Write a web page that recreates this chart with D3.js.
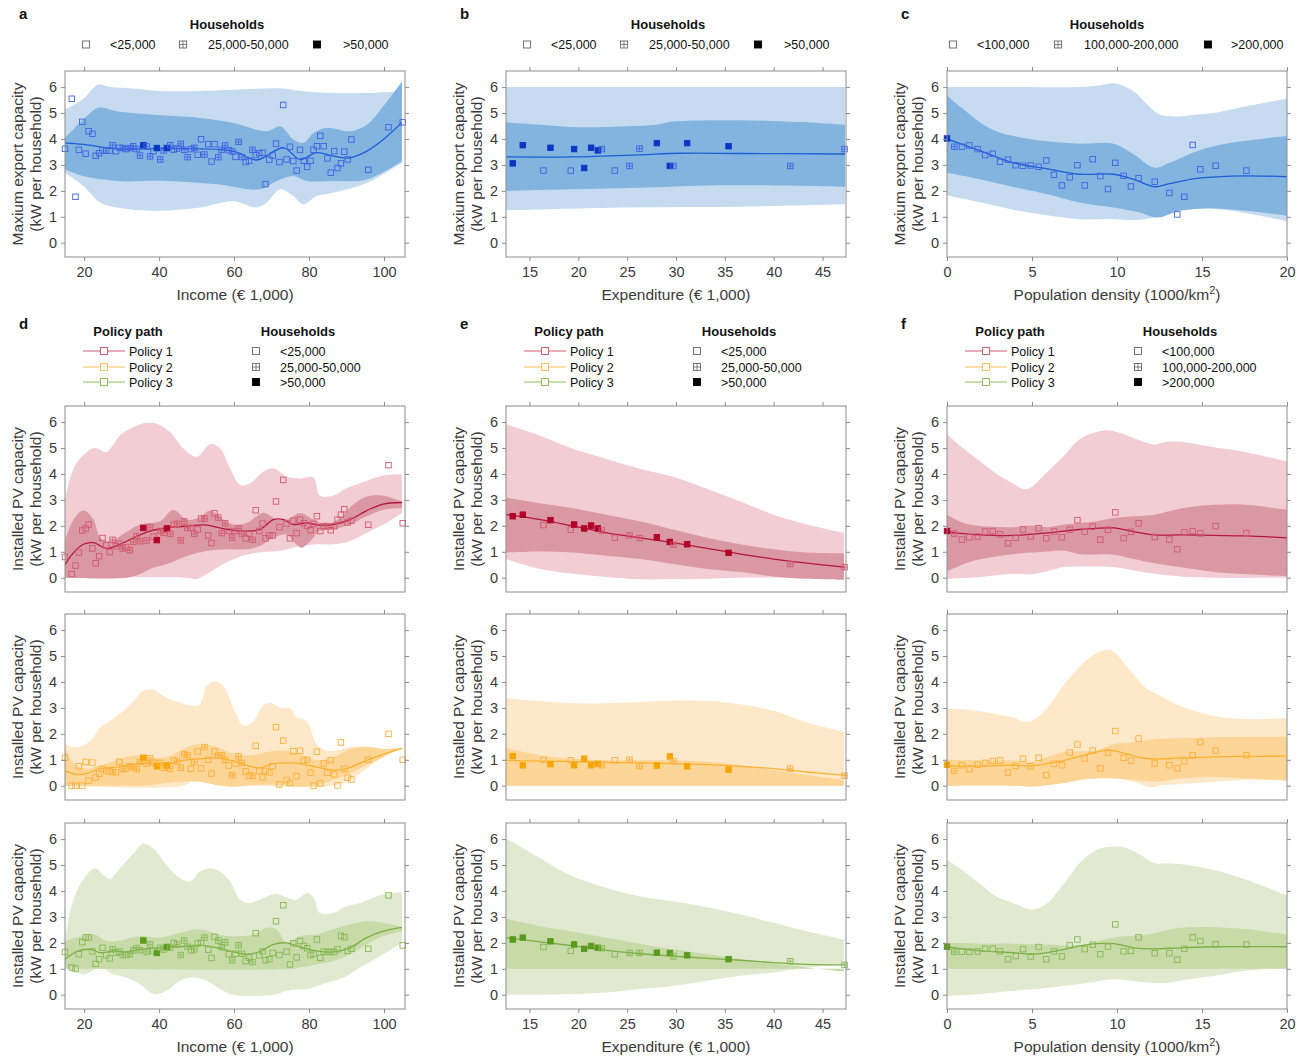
<!DOCTYPE html>
<html>
<head>
<meta charset="utf-8">
<script src="https://cdn.jsdelivr.net/npm/d3@7"></script>
<style>
body { margin: 0; background: #fff; }
svg { font-family: "Liberation Sans", Arial, Helvetica, sans-serif; }
</style>
</head>
<body>
<svg id="chart" width="1306" height="1061"></svg>
<script>
// ---- household groups / labels
var incomeGroups = ["<25,000", "25,000-50,000", ">50,000"];
var densityGroups = ["<100,000", "100,000-200,000", ">200,000"];
var policyNames = ["Policy 1", "Policy 2", "Policy 3"];
var incomeTicks = [20, 40, 60, 80, 100];
var expTicks = [15, 20, 25, 30, 35, 40, 45];
var densTicks = [0, 5, 10, 15, 20];
var yTicks = [0, 1, 2, 3, 4, 5, 6];

// ---- municipality points (x shared across panels of a column), type 0 = open, 1 = plus, 2 = filled
var incomeX = [14.9,16.7,17.7,18.6,19.5,20.4,21.2,22.2,23.1,24.0,
  24.9,25.9,26.8,27.6,28.5,29.4,30.3,31.2,32.2,33.1,
  34.0,34.9,35.8,36.7,37.6,38.5,39.4,40.3,41.2,42.1,
  43.0,43.9,44.8,45.8,46.7,47.6,48.5,49.4,50.3,51.2,
  52.1,53.1,54.0,54.8,55.8,56.7,57.6,58.6,59.5,60.4,
  61.2,62.1,63.1,64.0,64.9,65.8,66.7,67.6,68.4,69.4,
  70.3,71.2,72.1,73.1,74.0,74.9,75.8,76.7,77.6,78.6,
  79.5,80.4,81.2,82.1,83.0,83.9,84.9,85.8,86.7,87.6,
  88.5,89.4,90.3,91.3,95.8,101.2,105.0];
var incomeType = [0,0,0,0,0,0,0,0,0,0,
  0,0,0,1,0,0,1,0,1,1,
  1,1,2,1,1,0,2,1,1,2,
  1,0,1,1,1,1,0,1,0,0,
  1,0,0,0,1,1,1,0,1,0,
  1,1,0,0,1,0,0,0,0,0,
  0,0,0,0,0,0,0,0,0,0,
  0,0,0,0,0,0,0,0,0,0,
  0,0,0,0,0,0,0];
var aY = [3.62,5.55,1.77,3.58,4.66,3.43,4.30,4.20,3.35,3.45,
  3.56,3.55,3.55,3.76,3.53,3.66,3.65,3.61,3.65,3.72,
  3.61,3.36,3.76,3.71,3.33,3.53,3.65,3.21,3.56,3.65,
  3.76,3.59,3.63,3.81,3.58,3.30,3.61,3.66,3.39,3.99,
  3.40,3.80,3.13,3.80,3.30,3.58,3.75,3.57,3.52,3.31,
  3.89,3.30,3.11,3.16,3.58,3.38,3.45,3.47,2.26,3.20,
  3.36,3.82,3.11,5.31,3.21,3.70,3.15,2.78,3.58,3.16,
  2.93,3.16,3.58,3.72,4.12,3.72,3.25,2.70,3.53,2.88,
  3.06,3.51,3.21,3.98,2.81,4.45,4.64];
var d1Y = [0.80,0.14,0.47,0.97,1.82,1.90,2.05,1.13,0.56,0.83,
  1.53,1.25,0.99,1.46,1.22,1.31,1.13,1.17,1.06,1.38,
  1.59,1.41,1.92,1.44,1.95,1.58,1.45,1.80,1.73,1.90,
  1.69,2.05,2.08,1.44,2.17,1.92,1.92,1.69,1.86,2.28,
  2.28,1.63,1.34,2.48,2.32,1.72,2.10,1.80,1.55,1.80,
  1.90,1.69,1.52,1.69,1.46,2.60,1.80,2.09,1.52,1.63,
  1.63,2.94,1.95,3.77,2.09,1.52,2.20,1.72,2.24,2.10,
  2.00,1.83,2.08,2.37,1.80,1.99,1.99,1.83,1.99,2.24,
  2.43,2.64,2.13,2.20,2.04,4.34,2.10];
var d2Y = [1.08,0.00,0.00,0.75,0.00,0.92,0.20,0.89,0.32,0.46,
  0.64,0.57,0.55,0.53,0.52,0.92,0.64,0.66,0.75,0.71,
  0.64,0.92,1.08,0.85,1.06,0.89,0.75,0.88,0.69,0.78,
  0.65,0.97,0.93,0.69,1.21,1.18,0.66,0.92,1.32,0.67,
  1.49,1.00,0.47,1.32,1.17,1.17,1.00,0.78,0.41,0.85,
  1.13,0.88,0.55,0.39,0.39,1.54,0.57,0.32,0.57,0.51,
  0.76,2.26,0.05,1.74,0.22,0.10,1.33,0.37,1.35,0.97,
  1.00,0.50,0.00,1.31,0.09,0.86,0.50,0.99,0.44,0.01,
  1.67,0.65,0.31,0.24,1.00,2.00,1.00];
var d3Y = [1.65,1.05,1.01,1.56,2.03,2.21,2.21,1.67,1.19,1.37,
  1.81,1.52,1.40,1.75,1.62,1.66,1.53,1.53,1.57,1.71,
  1.80,1.72,2.09,1.65,1.94,1.69,1.61,1.81,1.74,1.84,
  1.81,2.00,1.94,1.53,2.09,1.85,1.71,1.75,1.97,2.00,
  2.20,1.74,1.42,2.23,2.09,1.83,2.02,1.56,1.33,1.58,
  1.91,1.58,1.30,1.43,1.26,2.37,1.52,1.67,1.33,1.37,
  1.61,2.83,1.53,3.45,1.66,1.17,1.98,1.44,2.07,1.88,
  1.79,1.53,1.58,2.13,1.42,1.66,1.65,1.65,1.65,1.75,
  2.27,2.22,1.69,1.77,1.77,3.83,1.90];

var expX = [13.29,14.32,16.43,17.15,19.23,19.57,20.60,21.31,22.00,22.41,23.74,25.24,26.26,28.04,29.37,29.74,31.14,35.38,41.69,47.25];
var expType = [2,2,0,2,0,2,2,2,2,1,0,1,1,2,2,1,2,2,1,1];
var bY = [3.06,3.76,2.78,3.66,2.78,3.61,2.88,3.66,3.56,3.61,2.78,2.96,3.63,3.84,2.96,2.96,3.84,3.72,2.96,3.61];
var e1Y = [2.37,2.43,2.03,2.22,1.85,2.05,1.90,2.01,1.90,1.82,1.54,1.63,1.53,1.56,1.38,1.27,1.29,0.96,0.53,0.41];
var e2Y = [1.14,0.79,1.00,0.83,0.98,0.79,1.04,0.79,0.84,0.79,0.98,1.00,0.76,0.78,1.13,0.95,0.75,0.62,0.66,0.39];
var e3Y = [2.13,2.20,1.84,2.06,1.69,1.94,1.77,1.88,1.81,1.79,1.56,1.61,1.61,1.62,1.61,1.48,1.52,1.37,1.29,1.15];

var densX = [0,0.43,0.88,1.31,1.80,2.24,2.69,3.12,3.59,4.04,4.47,4.92,5.39,5.84,6.29,6.76,7.22,7.67,8.10,8.57,9.02,9.47,9.90,10.39,10.82,11.27,12.22,13.08,13.55,13.96,14.45,14.90,15.80,17.61];
var densType = [2,1,0,0,0,0,0,0,0,0,0,0,0,0,0,0,0,0,0,0,0,0,0,0,0,0,0,0,0,0,0,0,0,0];
var cY = [4.02,3.70,3.70,3.75,3.61,3.38,3.43,3.12,3.20,2.99,2.97,2.98,2.93,3.17,2.62,2.21,2.52,2.99,2.21,3.22,2.57,2.07,3.08,2.58,2.17,2.49,2.35,1.92,1.09,1.77,3.77,2.83,2.97,2.78];
var f1Y = [1.80,1.70,1.47,1.56,1.59,1.78,1.80,1.67,1.33,1.54,1.86,1.59,1.91,1.52,1.78,1.56,1.85,2.22,1.78,1.97,1.47,1.85,2.52,1.53,1.77,2.10,1.57,1.47,1.10,1.75,1.80,1.71,1.99,1.72];
var f2Y = [0.81,0.57,0.79,0.64,0.81,0.88,0.95,0.97,0.51,0.76,1.04,0.75,1.08,0.41,0.85,0.79,1.28,1.59,1.05,1.35,0.67,1.28,2.11,1.08,0.97,1.82,0.86,0.79,0.67,0.94,1.17,1.68,1.35,1.17];
var f3Y = [1.85,1.65,1.66,1.66,1.67,1.77,1.77,1.67,1.37,1.49,1.76,1.48,1.84,1.37,1.67,1.48,1.90,2.13,1.76,1.93,1.56,1.85,2.71,1.67,1.69,2.21,1.60,1.60,1.35,1.77,2.21,2.07,1.94,1.93];

// ---- fitted curves and uncertainty bands, [x, y] pairs
var aOuterHi = [[14.9,5.13],[19.8,5.55],[23.8,6.1],[27,6.0],[33,5.95],[40,5.85],[50,5.85],[60,5.9],[68,5.95],[73,5.95],[78,5.85],[86.5,5.77],[95,5.77],[100,5.8],[104.8,5.85]];
var aOuterLo = [[14.9,2.7],[19.8,2.19],[24.3,1.55],[28.7,1.36],[39.4,1.23],[50.9,1.36],[59.8,1.6],[66,1.36],[68.7,1.55],[72.3,2.06],[75.8,1.8],[78.5,1.48],[82,1.8],[86.5,1.93],[95.4,2.3],[104.8,3.08]];
var aInnerHi = [[14.9,4.04],[19.8,4.75],[23.8,5.2],[28.7,5.07],[37.6,4.94],[50.9,4.81],[59.8,4.62],[68.7,4.3],[72.3,4.49],[75.8,3.98],[78.5,3.85],[81.2,4.23],[84.7,4.43],[90.9,4.3],[95.4,4.55],[99.8,5.26],[104.8,6.22]];
var aInnerLo = [[14.9,2.83],[19.8,2.57],[28.7,2.38],[42,2.38],[55.4,2.25],[66.9,2.06],[71.4,2.38],[75.8,2.57],[79.4,2.38],[86.5,2.38],[95.4,2.44],[104.8,3.15]];
var aFit = [[14.9,3.85],[19.8,3.79],[28.7,3.62],[42,3.63],[59.8,3.53],[66,3.19],[73.2,3.66],[77.6,3.21],[82,3.47],[86.5,3.34],[90.9,3.27],[95.4,3.53],[99.8,3.98],[104.8,4.64]];

var bOuterHi = [[12.6,6.0],[47.3,6.0]];
var bOuterLo = [[12.6,1.25],[25,1.36],[36.6,1.39],[47.3,1.48]];
var bInnerHi = [[12.6,4.64],[16.1,4.55],[20.2,4.45],[25,4.49],[28,4.55],[29.7,4.67],[36.6,4.72],[43.4,4.64],[47.3,4.54]];
var bInnerLo = [[12.6,2.0],[19.5,2.06],[26.3,2.12],[33.2,2.21],[40,2.21],[47.3,2.16]];
var bFit = [[12.6,3.31],[19.5,3.31],[26.3,3.39],[30.4,3.45],[36.6,3.44],[47.3,3.42]];

var cOuterHi = [[0,6.0],[3.9,6.0],[7.8,6.0],[8.8,6.05],[9.8,6.15],[10.2,6.09],[11,5.83],[11.8,5.32],[12.5,4.94],[13.7,4.87],[14.7,4.94],[15.7,5.0],[17.6,5.26],[20,5.55]];
var cOuterLo = [[0,1.83],[2,1.55],[3.9,1.27],[5.9,1.06],[7.8,0.91],[9.8,0.91],[11.2,0.88],[12.4,1.01],[13.1,1.23],[14.7,1.36],[16.7,1.23],[20,0.84]];
var cInnerHi = [[0,5.67],[1,5.13],[2,4.62],[2.9,4.3],[3.9,4.11],[5.9,3.91],[7.8,3.82],[9.8,3.82],[11,3.4],[12.2,2.89],[13.1,3.08],[14.7,3.53],[16.7,3.85],[20,4.11]];
var cInnerLo = [[0,2.7],[2,2.44],[3.9,2.15],[5.9,1.87],[7.8,1.55],[9.8,1.36],[11.4,1.16],[12.4,0.97],[13.7,1.23],[15.7,1.32],[17.6,1.23],[20,1.04]];
var cFit = [[0,4.0],[2,3.53],[3.9,3.08],[5.9,2.85],[7.8,2.64],[9.8,2.64],[11,2.44],[12.2,2.16],[13.1,2.28],[14.7,2.48],[16.7,2.57],[20,2.55]];

var d1OuterHi = [[14.9,3.0],[17.2,4.22],[19.8,4.73],[22.9,5.0],[26,4.85],[29.6,5.49],[33.2,5.81],[36.7,5.97],[39.4,5.94],[42.9,5.62],[46.5,4.98],[50,4.66],[53.6,5.15],[56.3,4.98],[58.9,4.22],[61.6,3.58],[64.3,3.64],[67.8,4.09],[70.5,4.22],[74,3.9],[77.6,3.83],[81.2,3.86],[82.9,3.16],[86.5,3.17],[90,3.45],[93.6,3.64],[99.8,3.94],[104.8,3.99]];
var d1OuterLo = [[14.9,0],[47.4,0],[50,-0.05],[52.7,0.14],[56.3,0.46],[59.8,0.71],[63.4,0.9],[68.7,1.0],[73.2,1.06],[77.6,1.22],[82,1.29],[86.5,1.29],[90.9,1.41],[95.4,1.73],[99.8,2.05],[104.8,2.5]];
var d1InnerHi = [[14.9,1.41],[17.2,2.24],[19.8,2.59],[22.5,2.24],[24.3,1.54],[26.9,1.41],[30.5,1.69],[34.9,2.05],[40.3,2.18],[43.8,2.62],[47.4,2.24],[50.9,2.33],[53.6,2.59],[57.2,2.24],[59.8,2.05],[63.4,2.11],[67.8,2.5],[71.4,2.24],[74,2.24],[77.6,2.5],[81.2,2.24],[84.7,2.05],[88.3,2.31],[91.8,2.82],[95.4,3.13],[99.8,3.16],[104.8,2.94]];
var d1InnerLo = [[14.9,0],[31.4,0],[34.9,0.14],[38.5,0.39],[42,0.52],[47.4,0.84],[52.7,1.03],[58,1.1],[63.4,1.1],[66.9,1.22],[70.5,1.54],[74,1.67],[75.8,1.41],[78,1.16],[80.3,1.41],[82.9,1.8],[86.5,1.86],[90.9,2.05],[95.4,2.37],[99.8,2.62],[104.8,2.69]];
var d1Fit = [[14.9,0.5],[17.2,0.97],[19.8,1.29],[22.5,1.35],[26,1.13],[29.6,1.29],[33.2,1.54],[37.6,1.8],[42,1.92],[47.4,1.99],[52.7,2.03],[58,1.86],[63.4,1.8],[66.9,1.86],[70.5,2.24],[73.2,2.24],[75.8,2.05],[79.4,2.11],[82.9,2.03],[86.5,2.05],[90.9,2.24],[95.4,2.59],[99.8,2.84],[104.8,2.9]];

var d2OuterHi = [[14.9,1.64],[16.7,1.49],[19.8,1.55],[22.5,1.87],[24.3,2.25],[26.9,2.5],[30.5,2.89],[33.2,3.27],[35.8,3.65],[38.5,3.69],[42,3.39],[45.6,3.2],[49.2,3.08],[50.9,3.14],[52.7,3.84],[54.9,4.03],[57.2,3.84],[59.8,3.01],[62.5,2.31],[65.2,2.5],[67.8,3.08],[69.6,3.2],[72.3,3.01],[74.9,2.99],[76.7,2.63],[79.4,2.5],[82,1.61],[84.7,1.36],[87.4,1.36],[90.9,1.49],[95.4,1.51],[99.8,1.42],[104.8,1.45]];
var d2OuterLo = [[14.9,0],[46.5,0],[49.2,0.22],[51.8,0.28],[55.4,0.22],[59.8,0.03],[64.3,0],[86.5,0],[90.9,0.22],[95.4,0.66],[99.8,1.11],[104.8,1.45]];
var d2InnerHi = [[14.9,1.49],[17.2,0.85],[20.7,0.66],[24.3,0.79],[28.7,0.98],[33.2,1.17],[37.6,1.08],[42,1.11],[46.5,1.42],[50.9,1.61],[55.4,1.49],[59.8,1.23],[64.3,1.17],[68.7,1.3],[73.2,1.36],[77.6,1.23],[82,0.98],[86.5,1.11],[90.9,1.42],[95.4,1.49],[99.8,1.42],[104.8,1.45]];
var d2InnerLo = [[14.9,0],[33.2,0],[37.6,0.02],[42,0.11],[46.5,0.15],[50.9,0.15],[55.4,0.02],[59.8,-0.04],[64.3,0.02],[68.7,0.05],[73.2,0.02],[77.6,-0.04],[82,0.02],[86.5,0.22],[90.9,0.47],[95.4,0.79],[99.8,1.11],[104.8,1.45]];
var d2Fit = [[14.9,0.57],[18,0.44],[20.7,0.47],[24.3,0.66],[28.7,0.72],[33.2,0.83],[37.6,0.88],[42,0.85],[46.5,0.98],[50.9,1.04],[55.4,1.07],[59.8,0.95],[64.3,0.75],[66.9,0.69],[70.5,0.85],[74,0.88],[77.6,0.85],[82,0.72],[86.5,0.6],[90,0.66],[95.4,0.98],[99.8,1.21],[104.8,1.45]];

var d3OuterHi = [[14.9,2.07],[16.3,3.22],[18,3.98],[20.7,4.62],[22.9,4.88],[25.2,4.62],[26.9,4.47],[29.6,4.88],[33.2,5.45],[35.8,5.83],[38.5,5.64],[42,5.0],[45.6,4.49],[48.3,4.37],[50.9,4.75],[53.6,4.88],[56.3,4.75],[58.9,4.37],[61.6,3.66],[64.3,3.54],[68.7,3.79],[71.4,3.88],[74,3.75],[76.7,3.66],[79.4,3.92],[81.2,3.75],[82.9,3.15],[86.5,3.15],[90,3.41],[93.6,3.54],[99.8,3.86],[104.8,3.96]];
var d3OuterLo = [[14.9,1.05],[19.8,0.79],[24.3,1.05],[27.8,0.79],[31.4,0.66],[34.9,0.4],[38.5,0.03],[42,0.15],[45.6,0.54],[49.2,0.66],[52.7,0.54],[56.3,0.22],[59.8,0],[70.5,0],[74.9,0.18],[79.4,0.22],[83.8,0.41],[89.2,0.66],[93.6,1.05],[99.8,1.56],[104.8,2.0]];
var d3InnerHi = [[14.9,2.07],[19.8,2.26],[22.9,2.32],[26,2.07],[29.6,2.09],[34.9,2.26],[40.3,2.2],[45.6,2.39],[50.9,2.52],[54.5,2.39],[58,2.26],[61.6,2.26],[65.2,2.32],[68.7,2.58],[71.4,2.52],[74,2.0],[77.6,2.26],[82,2.32],[86.5,2.52],[90.9,2.71],[95.4,2.83],[99.8,2.77],[104.8,2.6]];
var d3InnerLo = [[14.9,1.0],[75.8,1.0],[77.6,1.05],[82,1.17],[86.5,1.3],[90.9,1.56],[95.4,1.94],[99.8,2.26],[104.8,2.45]];
var d3Fit = [[14.9,1.37],[18,1.66],[21.6,1.75],[24.3,1.62],[27.8,1.69],[31.4,1.65],[34.9,1.75],[40.3,1.81],[45.6,1.85],[50.9,1.91],[55.4,1.81],[59.8,1.65],[63.4,1.56],[66.9,1.66],[70.5,1.94],[74,2.0],[77.6,1.84],[82,1.69],[86.5,1.65],[90.9,1.81],[95.4,2.2],[99.8,2.45],[104.8,2.6]];

var e1OuterHi = [[12.6,5.91],[16.1,5.47],[19.5,4.96],[22.9,4.58],[26.3,4.2],[29.7,3.89],[33.2,3.42],[36.6,2.94],[40,2.43],[43.4,2.05],[47.2,1.73]];
var e1OuterLo = [[12.6,0.72],[16.1,0.34],[19.5,0.15],[22.9,0.03],[26.3,-0.06],[29.7,-0.06],[33.2,-0.04],[36.6,0],[47.2,0]];
var e1InnerHi = [[12.6,3.09],[16.1,2.87],[19.5,2.68],[22.9,2.43],[26.3,2.18],[29.7,1.86],[33.2,1.54],[36.6,1.29],[40,1.1],[43.4,0.97],[47.2,0.94]];
var e1InnerLo = [[12.6,0.97],[16.1,1.01],[19.5,0.97],[22.9,0.85],[26.3,0.72],[29.7,0.53],[33.2,0.34],[36.6,0.22],[40,0.05],[43.4,-0.04],[47.2,-0.08]];
var e1Fit = [[12.6,2.43],[16.1,2.24],[19.5,1.99],[22.9,1.73],[26.3,1.54],[29.7,1.35],[33.2,1.13],[36.6,0.91],[40,0.72],[43.4,0.56],[47.2,0.41]];

var e2OuterHi = [[12.6,3.37],[16.1,3.27],[19.5,3.18],[22.9,3.18],[26.3,3.23],[29.7,3.29],[33.2,3.27],[36.6,3.14],[40,2.89],[43.4,2.44],[47.2,2.08]];
var e2OuterLo = [[12.6,0],[47.2,0]];
var e2InnerHi = [[12.6,1.45],[14.4,1.3],[16.1,1.17],[19.5,1.04],[22.9,0.98],[26.3,0.98],[29.7,0.98],[33.2,0.92],[36.6,0.79],[40,0.6],[43.4,0.41],[47.2,0.22]];
var e2InnerLo = [[12.6,0],[47.2,0]];
var e2Fit = [[12.6,0.98],[16.1,0.95],[19.5,0.93],[22.9,0.9],[26.3,0.88],[29.7,0.85],[33.2,0.81],[36.6,0.75],[40,0.66],[43.4,0.53],[47.2,0.41]];

var e3OuterHi = [[12.6,6.03],[14.4,5.64],[16.1,5.26],[17.8,4.88],[19.5,4.56],[22.9,4.11],[26.3,3.79],[29.7,3.6],[33.2,3.37],[36.6,3.09],[40,2.77],[43.4,2.45],[47.2,2.13]];
var e3OuterLo = [[12.6,0],[16.1,0],[19.5,0.03],[22.9,0.09],[26.3,0.22],[29.7,0.34],[33.2,0.54],[36.6,0.73],[40,0.86],[43.4,1.05],[47.2,1.17]];
var e3InnerHi = [[12.6,2.94],[16.1,2.64],[19.5,2.43],[22.9,2.2],[26.3,1.97],[29.7,1.75],[33.2,1.56],[36.6,1.37],[40,1.2],[43.4,1.05],[47.2,0.89]];
var e3InnerLo = [[12.6,1],[47.2,1]];
var e3Fit = [[12.6,2.2],[16.1,2.04],[19.5,1.88],[22.9,1.71],[26.3,1.58],[29.7,1.49],[33.2,1.4],[36.6,1.33],[40,1.24],[43.4,1.17],[47.2,1.15]];

var f1OuterHi = [[0,5.53],[1,4.96],[2,4.46],[2.9,4.01],[3.9,3.63],[4.5,3.42],[4.9,3.47],[5.9,4.08],[6.9,4.71],[7.8,5.34],[8.8,5.62],[9.6,5.68],[10.4,5.53],[11.4,5.28],[12.2,5.13],[12.9,5.24],[13.7,5.24],[15.7,5.03],[17.6,4.84],[20,4.48]];
var f1OuterLo = [[0,-0.04],[2,0.03],[3.9,0.15],[4.9,0.13],[5.9,0.25],[6.9,0.41],[8.8,0.43],[9.8,0.41],[11,0.28],[12.2,0.15],[13.7,0.05],[15.7,0],[20,0]];
var f1InnerHi = [[0,2.43],[1,2.11],[2,1.99],[3.9,1.95],[4.9,2.01],[5.9,1.95],[6.9,2.05],[7.8,2.11],[8.8,2.18],[9.8,2.3],[11,2.37],[12.2,2.43],[13.7,2.66],[15.7,2.81],[17.6,2.81],[20,2.62]];
var f1InnerLo = [[0,0.25],[1,0.53],[2,0.72],[3.9,0.91],[5.9,1.01],[6.9,1.04],[7.8,0.91],[9.8,0.89],[11,0.72],[12.2,0.56],[13.7,0.41],[15.7,0.22],[17.6,0.13],[20,0.06]];
var f1Fit = [[0,1.77],[2,1.65],[3.9,1.63],[5.9,1.73],[7.8,1.86],[9.8,1.92],[11,1.77],[12.2,1.65],[13.7,1.65],[15.7,1.63],[17.6,1.61],[20,1.54]];

var f2OuterHi = [[0,2.99],[1,2.95],[2,2.86],[2.9,2.76],[3.9,2.63],[4.5,2.48],[5,2.5],[5.9,3.01],[6.9,3.9],[7.8,4.6],[8.8,5.11],[9.4,5.24],[9.8,5.17],[10.8,4.41],[11.8,3.71],[12.2,3.58],[13.7,3.08],[15.7,2.69],[17.6,2.57],[20,2.61]];
var f2OuterLo = [[0,0],[3.9,0],[4.9,0.02],[5.9,0.09],[6.9,0.22],[7.8,0.34],[8.8,0.38],[9.8,0.34],[11,0.15],[12,-0.06],[12.7,0.03],[13.7,0.06],[15.7,0.15],[17.6,0.22],[20,0.22]];
var f2InnerHi = [[0,1.0],[2,0.98],[3.9,0.98],[4.9,0.92],[5.9,1.11],[6.9,1.3],[7.8,1.33],[8.8,1.36],[9.8,1.61],[11,1.68],[12.2,1.8],[13.7,1.83],[15.7,1.87],[17.6,1.89],[20,1.89]];
var f2InnerLo = [[0,0],[3.9,0],[4.9,-0.04],[5.9,0.02],[6.9,0.11],[7.8,0.22],[8.8,0.28],[9.8,0.28],[11,0.22],[12.2,0.15],[13.7,0.28],[15.7,0.34],[17.6,0.28],[20,0.19]];
var f2Fit = [[0,0.76],[2,0.76],[3.9,0.79],[4.9,0.76],[5.9,0.85],[6.9,0.98],[7.8,1.13],[8.8,1.3],[9.6,1.36],[10.4,1.26],[11.4,1.08],[12.2,1.03],[13.7,1.07],[15.7,1.11],[17.6,1.13],[20,1.14]];

var f3OuterHi = [[0,5.2],[1,4.75],[2,4.24],[2.9,3.79],[3.9,3.54],[4.9,3.28],[5.3,3.32],[5.9,3.54],[6.9,4.3],[7.8,5.07],[8.8,5.58],[9.8,5.71],[10.6,5.64],[11.4,5.39],[12.2,5.07],[12.9,5.07],[13.7,5.04],[15.7,4.81],[17.6,4.43],[20,3.83]];
var f3OuterLo = [[0,-0.04],[2,0.03],[3.9,0.15],[5.9,0.26],[7.8,0.41],[9.8,0.6],[10.8,0.54],[11.8,0.47],[12.7,0.45],[13.7,0.54],[15.7,0.73],[17.6,0.92],[20,1.05]];
var f3InnerHi = [[0,2.0],[2,1.97],[3.9,1.97],[5.9,1.94],[7.8,1.91],[9.8,2.2],[11.8,2.32],[13.7,2.58],[15.7,2.6],[17.6,2.52],[20,2.32]];
var f3InnerLo = [[0,1],[20,1]];
var f3Fit = [[0,1.84],[2,1.69],[3.9,1.62],[4.9,1.56],[5.9,1.62],[6.9,1.75],[7.8,1.88],[8.8,1.97],[9.8,1.97],[11,1.81],[12.2,1.77],[13.7,1.81],[15.7,1.85],[20,1.85]];

// ---- colours
var themes = {
    blue:   { outer: "#c6dbef", inner: "#82b4df", line: "#1b5fd6", pt: "#3f63e2", dark: "#0b36c4" },
    red:    { outer: "#f2cdd3", inner: "#da98a3", line: "#b5163e", pt: "#d25a70", dark: "#b0002a" },
    orange: { outer: "#fde8c9", inner: "#fdd596", line: "#fbb12f", pt: "#fbb03b", dark: "#f6a500" },
    green:  { outer: "#e1ead1", inner: "#c7daa8", line: "#7bb043", pt: "#86b954", dark: "#5a9a1e" }
};
var policyColors = ["#cf5f74", "#fcc15a", "#8fbf5e"];

// ---- layout
var colLeft = [65, 506, 947];
var rowTop = [71, 406, 614, 823];
var pw = 340, ph = 186;
var xDomains = { inc: [14.9, 105.6], exp: [12.6, 47.4], dens: [0, 20] };
var xTickSets = { inc: incomeTicks, exp: expTicks, dens: densTicks };
var xTitles = { inc: "Income (€ 1,000)", exp: "Expenditure (€ 1,000)", dens: "dens" };
var colKey = ["inc", "exp", "dens"];
var colPtsX = [incomeX, expX, densX];
var colPtsT = [incomeType, expType, densType];

var panels = [
    { col: 0, row: 0, theme: "blue", oh: aOuterHi, ol: aOuterLo, ih: aInnerHi, il: aInnerLo, fit: aFit, ys: aY },
    { col: 1, row: 0, theme: "blue", oh: bOuterHi, ol: bOuterLo, ih: bInnerHi, il: bInnerLo, fit: bFit, ys: bY },
    { col: 2, row: 0, theme: "blue", oh: cOuterHi, ol: cOuterLo, ih: cInnerHi, il: cInnerLo, fit: cFit, ys: cY },
    { col: 0, row: 1, theme: "red", oh: d1OuterHi, ol: d1OuterLo, ih: d1InnerHi, il: d1InnerLo, fit: d1Fit, ys: d1Y },
    { col: 0, row: 2, theme: "orange", oh: d2OuterHi, ol: d2OuterLo, ih: d2InnerHi, il: d2InnerLo, fit: d2Fit, ys: d2Y },
    { col: 0, row: 3, theme: "green", oh: d3OuterHi, ol: d3OuterLo, ih: d3InnerHi, il: d3InnerLo, fit: d3Fit, ys: d3Y },
    { col: 1, row: 1, theme: "red", oh: e1OuterHi, ol: e1OuterLo, ih: e1InnerHi, il: e1InnerLo, fit: e1Fit, ys: e1Y },
    { col: 1, row: 2, theme: "orange", oh: e2OuterHi, ol: e2OuterLo, ih: e2InnerHi, il: e2InnerLo, fit: e2Fit, ys: e2Y },
    { col: 1, row: 3, theme: "green", oh: e3OuterHi, ol: e3OuterLo, ih: e3InnerHi, il: e3InnerLo, fit: e3Fit, ys: e3Y },
    { col: 2, row: 1, theme: "red", oh: f1OuterHi, ol: f1OuterLo, ih: f1InnerHi, il: f1InnerLo, fit: f1Fit, ys: f1Y },
    { col: 2, row: 2, theme: "orange", oh: f2OuterHi, ol: f2OuterLo, ih: f2InnerHi, il: f2InnerLo, fit: f2Fit, ys: f2Y },
    { col: 2, row: 3, theme: "green", oh: f3OuterHi, ol: f3OuterLo, ih: f3InnerHi, il: f3InnerLo, fit: f3Fit, ys: f3Y }
];

var svg = d3.select("#chart");
var textCol = "#3a3a3a";
var frameCol = "#8c8c8c";

function marker(sel, type, stroke, fill, s) {
    sel.append("rect")
        .attr("x", -s / 2).attr("y", -s / 2)
        .attr("width", s).attr("height", s)
        .attr("fill", type == 2 ? fill : "none")
        .attr("stroke", type == 2 ? fill : stroke)
        .attr("stroke-width", 0.9);
    if (type == 1) {
        sel.append("path")
            .attr("d", "M" + (-s / 2) + ",0H" + (s / 2) + "M0," + (-s / 2) + "V" + (s / 2))
            .attr("stroke", stroke).attr("stroke-width", 0.8);
    }
}

panels.forEach(function (p, pi) {
    var t = themes[p.theme];
    var key = colKey[p.col];
    var g = svg.append("g")
        .attr("transform", "translate(" + colLeft[p.col] + "," + rowTop[p.row] + ")");

    var x = d3.scaleLinear().domain(xDomains[key]).range([0, pw]);
    var y = d3.scaleLinear().domain([-0.55, 6.62]).range([ph, 0]);

    var clipId = "clip" + pi;
    g.append("clipPath").attr("id", clipId)
        .append("rect").attr("width", pw).attr("height", ph);

    var line = d3.line()
        .x(function (d) { return x(d[0]); })
        .y(function (d) { return y(d[1]); })
        .curve(d3.curveCatmullRom.alpha(0.5));

    function band(hi, lo) {
        var top = line(hi);
        var bot = line(lo.slice().reverse());
        return top + "L" + bot.slice(1) + "Z";
    }

    var plot = g.append("g").attr("clip-path", "url(#" + clipId + ")");
    plot.append("path").attr("d", band(p.oh, p.ol)).attr("fill", t.outer);
    plot.append("path").attr("d", band(p.ih, p.il)).attr("fill", t.inner);
    plot.append("path").attr("d", line(p.fit))
        .attr("fill", "none").attr("stroke", t.line).attr("stroke-width", 1.3);

    var pts = colPtsX[p.col].map(function (xv, i) {
        return { x: xv, y: p.ys[i], type: colPtsT[p.col][i] };
    });
    g.selectAll("g.pt").data(pts).enter().append("g")
        .attr("class", "pt")
        .attr("transform", function (d) { return "translate(" + x(d.x) + "," + y(d.y) + ")"; })
        .each(function (d) { marker(d3.select(this), d.type, t.pt, t.dark, 5.5); });

    // frame
    g.append("rect").attr("width", pw).attr("height", ph)
        .attr("fill", "none").attr("stroke", frameCol).attr("stroke-width", 1);

    var showX = (p.row == 0 || p.row == 3);
    var axL = g.append("g").call(d3.axisLeft(y).tickValues(yTicks).tickSize(4).tickPadding(4));
    var axR = g.append("g").attr("transform", "translate(" + pw + ",0)")
        .call(d3.axisRight(y).tickValues(yTicks).tickSize(4).tickFormat(""));
    var axT = g.append("g").call(d3.axisTop(x).tickValues(xTickSets[key]).tickSize(4).tickFormat(""));
    var axes = [axL, axR, axT];
    if (showX) {
        var axB = g.append("g").attr("transform", "translate(0," + ph + ")")
            .call(d3.axisBottom(x).tickValues(xTickSets[key]).tickSize(4).tickPadding(6));
        axes.push(axB);
    }
    axes.forEach(function (a) {
        a.select(".domain").remove();
        a.selectAll(".tick line").attr("stroke", frameCol);
        a.selectAll(".tick text").attr("fill", textCol)
            .style("font-size", "14.5px")
            .style("font-family", "'Liberation Sans', Arial, sans-serif");
    });

    // y title (two lines)
    var yLines = p.row == 0 ? ["Maxium export capacity", "(kW per household)"]
                            : ["Installed PV capacity", "(kW per household)"];
    yLines.forEach(function (s, i) {
        g.append("text")
            .attr("transform", "translate(" + (-48 + i * 18) + "," + (ph / 2) + ") rotate(-90)")
            .attr("text-anchor", "middle")
            .attr("dominant-baseline", "central")
            .attr("fill", textCol)
            .style("font-size", "15.5px")
            .text(s);
    });

    if (showX) {
        var xt = g.append("text")
            .attr("x", pw / 2).attr("y", ph + 43)
            .attr("text-anchor", "middle")
            .attr("fill", textCol)
            .style("font-size", "15.5px");
        if (key == "dens") {
            xt.append("tspan").text("Population density (1000/km");
            xt.append("tspan").attr("dy", -6).style("font-size", "11px").text("2");
            xt.append("tspan").attr("dy", 6).text(")");
        } else {
            xt.text(xTitles[key]);
        }
    }
});

// ---- panel letters
var letters = ["a", "b", "c", "d", "e", "f"];
letters.forEach(function (l, i) {
    svg.append("text")
        .attr("x", [19, 460, 901][i % 3])
        .attr("y", i < 3 ? 19 : 329)
        .style("font-size", "15px").style("font-weight", "bold")
        .attr("fill", "#111")
        .text(l);
});

// ---- top legends (households)
[0, 1, 2].forEach(function (c) {
    var left = colLeft[c];
    var labels = c == 2 ? densityGroups : incomeGroups;
    var pos = c == 2 ? [[6, 30], [111, 137], [261, 284]] : [[21, 45], [118, 143], [252, 278]];
    var lg = svg.append("g").attr("transform", "translate(" + left + ",0)");
    lg.append("text").attr("x", c == 2 ? 160 : 162).attr("y", 29)
        .attr("text-anchor", "middle")
        .style("font-size", "13px").style("font-weight", "bold").attr("fill", "#111")
        .text("Households");
    labels.forEach(function (s, i) {
        var m = lg.append("g").attr("transform", "translate(" + pos[i][0] + ",44.5)");
        marker(m, i, "#666", "#000", 7);
        lg.append("text").attr("x", pos[i][1]).attr("y", 49)
            .style("font-size", "12.5px").attr("fill", "#111").text(s);
    });
});

// ---- lower legends (policy path + households)
[0, 1, 2].forEach(function (c) {
    var left = colLeft[c];
    var labels = c == 2 ? densityGroups : incomeGroups;
    var lg = svg.append("g").attr("transform", "translate(" + left + ",0)");
    lg.append("text").attr("x", 63).attr("y", 336).attr("text-anchor", "middle")
        .style("font-size", "13px").style("font-weight", "bold").attr("fill", "#111")
        .text("Policy path");
    lg.append("text").attr("x", 233).attr("y", 336).attr("text-anchor", "middle")
        .style("font-size", "13px").style("font-weight", "bold").attr("fill", "#111")
        .text("Households");
    var rowsY = [351, 367, 382];
    policyNames.forEach(function (s, i) {
        lg.append("line").attr("x1", 18).attr("x2", 60)
            .attr("y1", rowsY[i]).attr("y2", rowsY[i])
            .attr("stroke", policyColors[i]).attr("stroke-width", 1.2);
        var m = lg.append("g").attr("transform", "translate(39," + rowsY[i] + ")");
        m.append("rect").attr("x", -3.5).attr("y", -3.5).attr("width", 7).attr("height", 7)
            .attr("fill", "#fff").attr("stroke", policyColors[i]).attr("stroke-width", 1);
        lg.append("text").attr("x", 64).attr("y", rowsY[i] + 4.5)
            .style("font-size", "12.5px").attr("fill", "#111").text(s);
    });
    labels.forEach(function (s, i) {
        var m = lg.append("g").attr("transform", "translate(191," + rowsY[i] + ")");
        marker(m, i, "#666", "#000", 7);
        lg.append("text").attr("x", 215).attr("y", rowsY[i] + 4.5)
            .style("font-size", "12.5px").attr("fill", "#111").text(s);
    });
});
</script>
</body>
</html>
